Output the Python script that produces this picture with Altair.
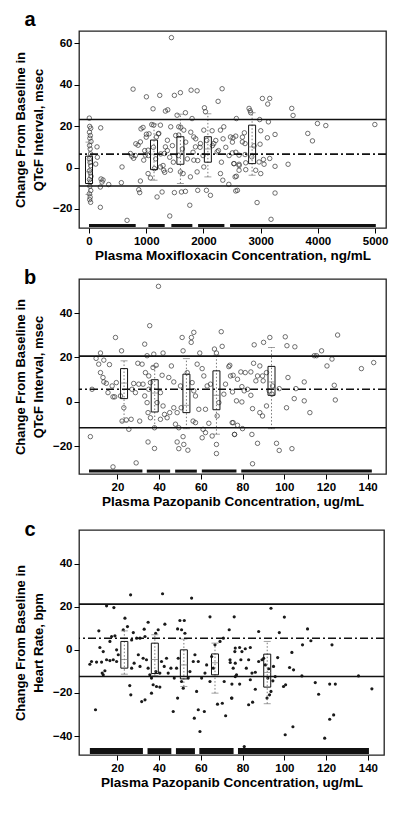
import altair as alt
import pandas as pd

# ---------------- Panel a: Moxifloxacin, QTcF ----------------
A_X = [5, 12, 30, 8, 23, 15, 35, 10, 20, 28, 5, 18, 30, 10, 22, 35, 8, 25, 15, 30, 6, 20, 12, 28,
       117, 146, 204, 210, 227, 198, 140, 198, 245, 344, 577, 565, 665,
       723, 750, 780, 810, 869, 886, 898, 944, 857, 898, 956, 1003, 1032, 985, 1032, 1073, 1096, 1131,
       1248, 1178, 1219, 1143, 1248, 1189, 1277, 1306, 1335, 1318, 1370, 1428, 1411, 1422, 1492, 1539,
       1568, 1568, 1656, 1685, 1597, 1644, 1615, 1685, 1761, 1772, 1801, 1831, 1860, 1831, 1889, 1900,
       1947, 2006, 2052, 2006, 2122, 2151, 2180, 2297, 2355, 2297, 2338, 2443, 2239, 2472, 2530, 2553,
       1440, 770, 1003, 1236, 1492, 1597, 1784, 1889, 2326, 1119, 1335, 1376, 2017, 2035, 2256,
       3030, 3158, 3123, 3543, 3566, 2797, 2815, 2826, 2575, 2983, 3135, 3992, 4138, 4995, 3823, 3905,
       3251, 3117, 3001, 2715, 2564, 2517, 2680, 2727, 2989, 2884, 2505, 2622, 2727, 2535, 2622, 2739,
       2844, 2972, 3048, 3158, 3059, 3251, 3479, 2622, 2739, 2913, 3001, 2575, 2564, 2593, 3251, 2937, 3181,
       818, 909, 1000, 1049, 973, 1037, 1125, 1165, 1212, 1253, 1294, 1323, 1369, 1410, 1457, 1474, 1515,
       1562, 1603, 1632, 1690, 1719, 1778, 1818, 1865, 1900, 1941, 1993, 2058, 2156, 2215, 2262, 2314,
       2343, 2390, 2448, 2506, 2565, 2623, 2681]
A_Y = [23.9, 19.9, 19, 17.1, 15.5, 14.2, 12.6, 10.7, 9, 6.6, 4.2, 2.5, 0.9, -1.5, -2.6, -4.2, -5.8, -7.1, -9, -11.1, -12.7, -14.3, -15.5, -16.8,
       1.7, 5, 19.2, -5.5, -7, -19.2, 10, -9.4, -6, -8.2, 0.3, -7.3, -25.5,
       6.8, 5.5, 4.5, 5.8, -10.7, -12.1, -6.5, 19.4, 10.8, 12.4, 3.6, 16.1, 8.4, 6, -2.9, -5, 20.8, 20.5,
       20.5, 14.8, 16.5, -0.5, 0.3, -14.2, -11.8, -1.3, 10, 6.8, 13.2, 19.7, -23.4, -1.3, -12.1, 25.3,
       19.7, 15.7, 18.1, 26.5, -2.1, -2.9, -11.8, -11.5, -18.2, -4.5, 23.7, 14.8, 10, 3.6, -2.1, -11,
       11.6, 18.1, -11, 0.3, -13.4, 17.8, 11.6, 18.1, 19.7, -2.9, -6.1, -8.1, 7.6, 14.8, 1.9, -4.5,
       62.8, 37.9, 34.2, 34.9, 34.9, 36.2, 37.4, 37.1, 38.1, 28.4, 27.3, 27.9, 28.9, 27, 32,
       33.4, 33.4, 30.7, 28.6, 25.2, 28.6, 27.5, 26.5, 23.7, 23.2, 22.1, 21.3, 20.3, 20.8, 16.5, 12.9,
       16, 14.4, 17.8, 16.8, 15.2, 14.4, 12.4, 11.6, 11.3, 10.5, 7.1, 6, 6.3, 1.9, 1.6, 2.3,
       5.2, 2.7, 3.9, 4.4, 1.6, 0.6, 1.6, -1.3, -1, -1.3, -2.9, -4.2, -11.3, -11, -12.3, -16.9, -25,
       11.5, 18.7, 14.7, 16.3, 8.2, 5.8, 9.8, 4.2, 16.3, 6.6, 1, -2.3, 8.2, 5, 10.6, 2.6, 15.5,
       5.8, 19.5, 9, 12.3, 4.2, 17.1, 7.4, 13.9, 3.4, 9.8, 5.8, 13.1, 10.6, 13.1, 8.2, 2.6,
       13.9, 9.8, 5.8, 12.3, 7.4, 1, 14.7]
A_BOX_X = [0, 1136, 1597, 2077, 2850]
A_BOX_Q1 = [-7.7, -1, 1.6, 2.6, 1.9]
A_BOX_MED = [-2, 6.5, 7, 9, 10]
A_BOX_Q3 = [5.5, 13.3, 14.9, 14.9, 20.5]
A_BOX_LO = [-13, -6.1, -7.7, -4.5, -3.7]
A_BOX_HI = [12.3, 21, 25.8, 26, 26.5]
A_LIMITS = [23.2, -8.9]
A_MEAN = [6.5]
A_BAR_START = [0, 1037, 1439, 1906, 2465]
A_BAR_END = [816, 1323, 1806, 2366, 5012]
A_BAR_Y = -28

# ---------------- Panel b: Pazopanib, QTcF ----------------
B_X = [39.7, 35.5, 19.1, 22, 11.9, 9.8, 13.5, 16.2, 11.05, 11.9, 13.1, 13.5, 14.7, 15.5, 7.85, 7.05, 17.9, 29,
       17.9, 18.7, 19.5, 17.5, 21.5, 23.1, 22.25, 24.3, 25.5, 26.6, 27.8, 27, 29.8, 31.85, 30.7, 28.65, 30.25,
       32.3, 33.1, 34.25, 37.45, 33.45, 35.05, 35.85, 35.05, 33.1, 34.25, 34.7, 35.85, 34.7, 37.8, 37.1, 38.6,
       41.9, 41.45, 40.65, 39.05, 41.9, 40.65, 37.8, 42.6, 43.85, 45.1, 45.9, 44.65, 47.05, 47.05, 47.85,
       48.65, 49.45, 48.65, 49.45, 51.5, 51.85, 53.8, 51.05, 55.5, 56.65, 55.4, 51.5, 53.5, 50.25, 50.6,
       55.85, 56.65, 57.45, 56.3, 57.45, 59.05, 58.25, 59.5, 60.65, 61.45, 62.25, 61.1, 60.65, 62.25, 63.85,
       63.05, 64.65, 65.45, 66.55, 67.5, 69.8, 70.25, 67.5, 67.5, 67.85, 68.65, 71.05, 71.85, 73.45, 74.25,
       75.05, 76.15, 77.1,
       73.9, 75.5, 77.6, 79.2, 81.3, 84, 85.3, 88.3, 85.6, 90.1, 93.1, 100.5, 101.3, 105.1, 125.6, 117.9,
       114.4, 115.5, 122.9, 120.5, 142.9, 137, 101.8, 109.6, 124, 105.6, 97.6, 92.8, 86.4, 87.2, 89.6, 89.9,
       91.5, 79.7, 80.8, 82.4, 75.2, 84, 79.7, 91.5, 84.8, 88.3, 89.6, 94.1, 94.4, 104.8, 109.6, 101.1,
       112.3, 124.5, 75.5, 77.6, 80, 76.2, 84.5, 87.2, 96.3, 97.6, 103.7, 84.8]
B_Y = [52.0, 34.3, 29.0, 23.0, 22.0, 19.6, 18.8, 16.8, 17, 13.2, 11, 9, 8.4, 4.2, 5.7, -15.6, -29.2, -27.4,
       2.3, 2.3, 8.7, 7.2, 2.7, -2.6, -8.6, -8.1, -12.3, -7.8, 8.3, 5.7, 17.4, 17, -8.6, 4.2, 8,
       8, 26, 20.8, 21.5, 13.2, 11.7, 8.7, 5.7, 2.7, -0.3, -4.8, -7.1, -18, -20.9, 15.5, 16.5,
       22, 12, 4.2, -0.3, -1.8, -7.8, -11.6, -5.6, -7.1, -4.8, 16.2, 11, 9, -2.6, -10,
       -4.8, -11.6, -18, -21, -15.6, -19.1, -21.7, 29, 29, 31.3, 26.8, 23, 13.2, 7.2, -2.6,
       8.7, 5, 2.7, -8.6, -9.3, -3.3, 17, 22, 15, 11.7, -3.3, -12.3, -16.1, -13.8, -9.6,
       7.2, 8, -15.3, 23.8, 22, 31.6, 25, -19.1, -23.2, -6.3, -0.3, 3.5, 8, 15.9, 11.7,
       -9.3, -14.6, 0.5,
       16.5, 12, 10.2, 13.5, 13.2, 13.5, 17.4, 16.2, 25.7, 26.8, 29, 29.3, 25.3, 24.8, 30.1, 23,
       20.8, 20.8, 19.3, 16.2, 17.7, 15, 11, 9, 7.5, 6, 6, 5, 9.5, 11.7, 11.7, 9.5,
       13.2, 6.9, 5, 5.7, 4.5, 3, 0, -1.8, -3, -4.8, -6.3, 3.5, 7.2, 1.5, 0.5, -2.6,
       -4.8, 0.9, -9.3, -10.5, -12, -14.6, -14.6, -18.6, -18.6, -21.8, -21, -27.8]
B_BOX_X = [23.2, 37.9, 53.1, 67.5, 93.9]
B_BOX_Q1 = [1.5, -4.5, -4.8, -3.5, 3]
B_BOX_MED = [8.5, 4, -1.5, 3, 9]
B_BOX_Q3 = [15, 10, 12.5, 14, 16]
B_BOX_LO = [-9, -11.5, -12, -14.5, -12]
B_BOX_HI = [18.5, 16, 19.5, 21, 24.5]
B_LIMITS = [20.6, -11.6]
B_MEAN = [5.7]
B_BAR_START = [6.4, 34.1, 47.7, 60.5, 79.4]
B_BAR_END = [32.0, 45.3, 58.1, 77.1, 142]
B_BAR_Y = -31.1

# ---------------- Panel c: Pazopanib, heart rate ----------------
C_X = [26.4, 41.7, 55.6, 14.9, 18.4, 11.2, 23.7, 24.9, 22.9, 34.8, 32.9, 39.6, 38.4, 42.8, 50, 52.1,
       48.9, 50.8, 52.4, 64.4, 76, 73.6, 27.7, 17.3, 18.9, 26.9, 29.3, 30.9, 33.3, 16.5, 11.7, 13.3,
       7.7, 6.9, 10.1, 12.5, 14.9, 16.5, 18.1, 19.7, 20.5, 19.7, 12.8, 13.3, 14.1, 9.6, 26, 26.5, 26.9,
       28.1, 30.1, 30.9, 32.4, 31.7, 33.3, 34, 34.8, 35.6, 36.4, 37.2, 38.8, 40.4, 36.4, 38.5, 40.4,
       41.2, 42.5, 43.6, 44.4, 45.7, 47.3, 46.8, 48.9, 48.4, 49.2, 50.8, 51.6, 54, 54.8, 56.4, 57.2,
       56.9, 58, 58.8, 59.6, 58.8, 61.7, 60.4, 62, 62.8, 64.4, 65.2, 66, 66.8, 68, 69.2, 70.3, 70.8,
       71.2, 71.9, 74, 74.7, 75.5, 76.3, 77.1,
       93.6, 100, 87.7, 97.6, 111.1, 112.7, 108.7, 122.8, 103.6, 96.8, 102.5, 104.4, 108.4, 135.5,
       114.8, 121.7, 124.4, 141.9, 116.4, 99.6, 100.6, 121.7, 123.6, 104.1, 100.4, 119.3, 80.8,
       76.5, 78.6, 81.3, 83.7, 79.7, 74.1, 76.5, 79.2, 82.9, 87.7, 89.3, 81.8, 84.5, 86.1, 90.1,
       90.9, 92.5, 94.8, 83.7, 86.1, 74.9, 78.6, 74.9, 82.9, 84.8, 92.9, 93.6, 91.7, 94.5, 92.1,
       95.6, 76.5]
C_Y = [25.5, 26, 24, 20.4, 19.6, 8.8, 14.7, 10.8, 9.3, 12.8, 9.6, 9.3, 7.7, 11.9, 13.6, 13.6,
       9.7, 9.3, 7.7, 15.3, 15.3, 9.3, 8, 6.2, 6.5, 4.6, 5.4, 5.4, 6.2, 3.9, 1.1, -0.8,
       -5.4, -6.7, -5.7, -5.7, -4.6, -5, -4.6, -5.4, -2.3, 0, -10.8, -11.6, -9.7, -27.8, -16.6, -20.9, -8.5,
       -6.2, -2.3, -7.7, -3.9, -24, -23.2, -4.6, -8.5, -11.6, -13.1, -16.2, -17, -17.3, -20.1, -10.1, -10.8,
       -5.4, -7.7, -3.9, -10.8, -8.5, -13.1, -28.6, -22.4, -8.5, -3.9, -14.7, -17.8, -13.1, -10.1, -5.4, -2.3,
       -31.7, -19.3, -27.8, -37.9, -5.4, -28.6, -13.1, -10.8, -7, -14.7, -3.1, -8.5, 2.3, -25.2, 3.9, -24.8, 5.4,
       -14.7, -30.6, -4.6, -22.4, -8.5, -0.8, -11.6,
       19.3, 15.2, 8.5, 8, 9.7, 4.2, 2.3, 2.3, -1.2, -3.6, -8.2, -9.3, -12.1, -12.1,
       -15.2, -15.9, -15.9, -18.1, -20.6, -17, -16.2, -32.2, -30.2, -35.7, -39.4, -41, -44.9,
       0.8, 1.1, 0.5, 1.1, -0.8, -5.9, -6.2, -4.6, -4.6, -5.4, -4.6, -8.5, -10.8, -10.4, -3.9,
       -7, -8.8, -7.7, -13.9, -18.3, -15.9, -15.9, -22.4, -25.5, -24.3, -20.9, -19.3, -22.4, -14.4, -13.1,
       -12.4, -12.4]
C_BOX_X = [23.4, 38.0, 51.9, 66.8, 91.8]
C_BOX_Q1 = [-8.5, -11, -13.5, -11.6, -17.3]
C_BOX_MED = [-4.5, -4.5, -7, -6, -10.5]
C_BOX_Q3 = [3.9, 3.1, 0, -1.9, -2]
C_BOX_LO = [-11.3, -12, -17, -20.1, -25]
C_BOX_HI = [8.8, 7, 5, 3.1, 3.9]
C_LIMITS = [21.2, -12.4]
C_MEAN = [5.4]
C_BAR_START = [6.9, 34.5, 48.1, 59.3, 77.8]
C_BAR_END = [32.3, 45.9, 57.2, 75.7, 140.5]
C_BAR_Y = -47

FONT = "Liberation Sans"


def panel(xs, ys, bx, q1, med, q3, lo, hi, limits, mean, bs, be, bar_y, bar_w,
          xdom, ydom, xticks, yticks, xtitle, ytitle, letter, letter_y, w, h, filled):
    pts = pd.DataFrame({"x": xs, "y": ys})
    box = pd.DataFrame({"x": bx, "q1": q1, "med": med, "q3": q3, "lo": lo, "hi": hi})
    lim = pd.DataFrame({"y": limits})
    mn = pd.DataFrame({"y": mean})
    bars = pd.DataFrame({"s": bs, "e": be, "y": [bar_y] * len(bs)})
    lab = pd.DataFrame({"t": [letter]})

    xsc = alt.Scale(domain=xdom, nice=False, zero=False, padding=0)
    ysc = alt.Scale(domain=ydom, nice=False, zero=False, padding=0)
    xax = alt.Axis(values=xticks, format="d", title=xtitle)
    yax = alt.Axis(values=yticks, format="d", title=ytitle)

    def X(f):
        return alt.X(f, type="quantitative", scale=xsc, axis=xax)

    def Y(f):
        return alt.Y(f, type="quantitative", scale=ysc, axis=yax)

    if filled:
        pmark = alt.Chart(pts).mark_circle(size=10, color="#1a1a1a", opacity=1)
    else:
        pmark = alt.Chart(pts).mark_point(shape="circle", size=20, color="#333333",
                                          strokeWidth=0.7, filled=False, opacity=1)
    points = pmark.encode(x=X("x"), y=Y("y"))

    whisk = alt.Chart(box).mark_rule(color="#777777", strokeDash=[1.5, 2], strokeWidth=1).encode(
        x=X("x"), y=Y("lo"), y2="hi")
    rect = alt.Chart(box).mark_bar(size=7, fillOpacity=0, stroke="#111111", strokeWidth=1).encode(
        x=X("x"), y=Y("q1"), y2="q3")
    medt = alt.Chart(box).mark_tick(orient="horizontal", size=7, thickness=1, color="#777777").encode(
        x=X("x"), y=Y("med"))
    cap_lo = alt.Chart(box).mark_tick(orient="horizontal", size=7, thickness=1, color="#777777").encode(
        x=X("x"), y=Y("lo"))
    cap_hi = alt.Chart(box).mark_tick(orient="horizontal", size=7, thickness=1, color="#777777").encode(
        x=X("x"), y=Y("hi"))

    lim_rule = alt.Chart(lim).mark_rule(color="#111111", strokeWidth=1.6).encode(y=Y("y"))
    mean_rule = alt.Chart(mn).mark_rule(color="#111111", strokeWidth=1.6,
                                        strokeDash=[8, 3, 2, 3]).encode(y=Y("y"))
    bar_rule = alt.Chart(bars).mark_rule(color="#111111", strokeWidth=bar_w, strokeCap="butt").encode(
        x=X("s"), x2="e", y=Y("y"))
    letter_t = alt.Chart(lab).mark_text(fontSize=20, fontWeight="bold", font=FONT, align="center",
                                        baseline="alphabetic", color="black").encode(
        text="t:N", x=alt.value(-49), y=alt.value(letter_y))

    return alt.layer(points, whisk, rect, medt, cap_lo, cap_hi, lim_rule, mean_rule, bar_rule,
                     letter_t).properties(width=w, height=h)


pa = panel(A_X, A_Y, A_BOX_X, A_BOX_Q1, A_BOX_MED, A_BOX_Q3, A_BOX_LO, A_BOX_HI, A_LIMITS, A_MEAN,
           A_BAR_START, A_BAR_END, A_BAR_Y, 3,
           [-175, 5190], [-29.2, 66], [0, 1000, 2000, 3000, 4000, 5000], [-20, 0, 20, 40, 60],
           "Plasma Moxifloxacin Concentration, ng/mL",
           ["Change From Baseline in", "QTcF Interval, msec"], "a", -5, 307, 197, False)
pb = panel(B_X, B_Y, B_BOX_X, B_BOX_Q1, B_BOX_MED, B_BOX_Q3, B_BOX_LO, B_BOX_HI, B_LIMITS, B_MEAN,
           B_BAR_START, B_BAR_END, B_BAR_Y, 3,
           [1.6, 148.8], [-32.4, 55.3], [20, 40, 60, 80, 100, 120, 140], [-20, 0, 20, 40],
           "Plasma Pazopanib Concentration, ug/mL",
           ["Change From Baseline in", "QTcF Interval, msec"], "b", 5, 307, 195, False)
pc = panel(C_X, C_Y, C_BOX_X, C_BOX_Q1, C_BOX_MED, C_BOX_Q3, C_BOX_LO, C_BOX_HI, C_LIMITS, C_MEAN,
           C_BAR_START, C_BAR_END, C_BAR_Y, 6,
           [1.7, 147.7], [-48.8, 55.6], [20, 40, 60, 80, 100, 120, 140], [-40, -20, 0, 20, 40],
           "Plasma Pazopanib Concentration, ug/mL",
           ["Change From Baseline in", "Heart Rate, bpm"], "c", 6, 305, 225, True)

chart = alt.vconcat(alt.vconcat(pa, pb, spacing=4), pc, spacing=10).properties(
    padding={"top": 1, "left": 5, "right": 2, "bottom": 2}
).configure_view(
    stroke="#222222", strokeWidth=1.3
).configure_axis(
    grid=False, domain=False, labelFont=FONT, labelFontWeight="bold", labelFontSize=11.5,
    labelColor="black", tickColor="black", tickSize=5, titleFont=FONT, titleFontWeight="bold",
    titleColor="black"
).configure_axisX(
    titleFontSize=13.5, labelPadding=2, titlePadding=2
).configure_axisY(
    titleFontSize=13, titleLineHeight=18, titlePadding=7, labelPadding=2
)

chart.save("out.html", embed_options={"renderer": "svg", "actions": False})
